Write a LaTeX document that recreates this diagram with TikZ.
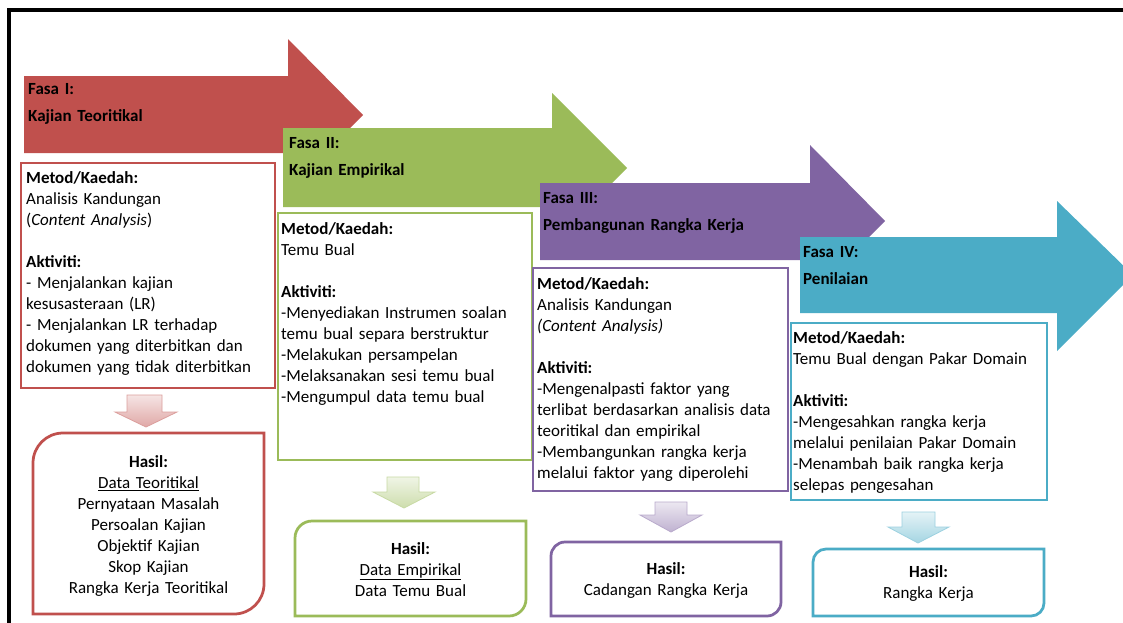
\documentclass[tikz,border=0pt]{standalone}
\usepackage{fontspec}
\setmainfont{Carlito}[WordSpace=0.85]
\usepackage{tikz}
\definecolor{merah}{HTML}{C0504D}
\definecolor{hijau}{HTML}{9BBB59}
\definecolor{ungu}{HTML}{8064A2}
\definecolor{biru}{HTML}{4BACC6}
\setlength{\parindent}{0pt}
\tikzset{
  teks/.style={font={\fontsize{17}{21}\selectfont}, inner sep=0pt, execute at begin node={\rule{0pt}{14pt}}},
  fasa/.style={teks, font={\fontsize{17}{21}\selectfont\bfseries}, anchor=north west, align=left, text width=250pt},
  kotak/.style={draw=#1, fill=white, line width=2.75pt, outer sep=0pt, anchor=north west},
  isi/.style={teks, anchor=north west, align=left, text width=252pt},
  turun/.style={draw=#1!55!white, line width=0.8pt, top color=#1!15!white, bottom color=#1!50!white},
  hasil/.style={draw=#1, fill=white, line width=2.75pt},
  hasilteks/.style={teks, anchor=north, align=center, text width=220pt},
}

\begin{document}
\begin{tikzpicture}[x=10pt, y=-10pt]
            \clip (0,0) rectangle (112.3,62.2);
            \fill[white] (0,0) rectangle (112.3,62.2);
            \draw[line width=3.5pt] (0.9,65.0) -- (0.9,1.0) -- (115.0,1.0);

            \fill[merah] (2.4,7.6) -- (28.8,7.6) -- (28.8,3.9) -- (36.3,11.5) -- (28.8,19.1) -- (28.8,15.3) -- (2.4,15.3) -- cycle;
            \fill[hijau] (28.3,12.8) -- (55.2,12.8) -- (55.2,9.3) -- (62.7,16.8) -- (55.2,24.3) -- (55.2,20.7) -- (28.3,20.7) -- cycle;
            \fill[ungu] (54.0,18.3) -- (81.0,18.3) -- (81.0,14.5) -- (88.5,22.1) -- (81.0,29.7) -- (81.0,26.0) -- (54.0,26.0) -- cycle;
            \fill[biru] (80.0,23.7) -- (105.7,23.7) -- (105.7,20.1) -- (113.3,27.5) -- (105.7,35.1) -- (105.7,31.3) -- (80.0,31.3) -- cycle;

            \node[fasa] (fasa1) at (2.8,8.05) {Fasa I:\\[6pt]Kajian Teoritikal};
            \node[fasa] (fasa2) at (28.9,13.4) {Fasa II:\\[6pt]Kajian Empirikal};
            \node[fasa] (fasa3) at (54.3,18.9) {Fasa III:\\[6pt]Pembangunan Rangka Kerja};
            \node[fasa] (fasa4) at (80.3,24.3) {Fasa IV:\\[6pt]Penilaian};

            \node[kotak=merah, minimum width=254pt, minimum height=225pt] (kotak1) at (2.1,16.3) {};
            \node[kotak=hijau, minimum width=254pt, minimum height=247pt] (kotak2) at (27.8,21.3) {};
            \node[kotak=ungu, minimum width=255pt, minimum height=223pt] (kotak3) at (53.3,26.8) {};
            \node[kotak=biru, minimum width=256pt, minimum height=177pt] (kotak4) at (79.1,32.3) {};

            \node[isi] (isi1) at (2.6,16.9) {\textbf{Metod/Kaedah:}\\Analisis Kandungan\\(\textit{Content Analysis})\\[21pt]\textbf{Aktiviti:}\\- Menjalankan kajian\\kesusasteraan (LR)\\- Menjalankan LR terhadap\\dokumen yang diterbitkan dan\\dokumen yang tidak diterbitkan};
            \node[isi] (isi2) at (28.1,22.0) {\textbf{Metod/Kaedah:}\\Temu Bual\\[21pt]\textbf{Aktiviti:}\\-Menyediakan Instrumen soalan\\temu bual separa berstruktur\\-Melakukan persampelan\\-Melaksanakan sesi temu bual\\-Mengumpul data temu bual};
            \node[isi] (isi3) at (53.7,27.5) {\textbf{Metod/Kaedah:}\\Analisis Kandungan\\\textit{(Content Analysis)}\\[21pt]\textbf{Aktiviti:}\\-Mengenalpasti faktor yang\\terlibat berdasarkan analisis data\\teoritikal dan empirikal\\-Membangunkan rangka kerja\\melalui faktor yang diperolehi};
            \node[isi] (isi4) at (79.3,32.9) {\textbf{Metod/Kaedah:}\\Temu Bual dengan Pakar Domain\\[21pt]\textbf{Aktiviti:}\\-Mengesahkan rangka kerja\\melalui penilaian Pakar Domain\\-Menambah baik rangka kerja\\selepas pengesahan};

            \draw[turun=merah] (12.7,39.5) -- (16.2,39.5) -- (16.2,41.2) -- (17.7,41.2) -- (14.6,42.7) -- (11.5,41.2) -- (12.7,41.2) -- cycle;
            \draw[turun=hijau] (38.7,47.7) -- (41.9,47.7) -- (41.9,49.2) -- (43.5,49.2) -- (40.4,50.8) -- (37.3,49.2) -- (38.7,49.2) -- cycle;
            \draw[turun=ungu] (65.5,50.2) -- (68.7,50.2) -- (68.7,51.5) -- (70.2,51.5) -- (67.1,53.2) -- (64.0,51.5) -- (65.5,51.5) -- cycle;
            \draw[turun=biru] (90.2,51.2) -- (93.5,51.2) -- (93.5,52.7) -- (94.9,52.7) -- (91.8,54.3) -- (88.8,52.7) -- (90.2,52.7) -- cycle;

            \draw[hasil=merah] (3.3,46.3) .. controls (3.3,44.64) and (4.64,43.3) .. (6.3,43.3) -- (26.4,43.3) -- (26.4,58.4) .. controls (26.4,60.06) and (25.06,61.4) .. (23.4,61.4) -- (3.3,61.4) -- cycle;
            \draw[hasil=hijau] (29.5,53.8) .. controls (29.5,52.86) and (30.26,52.1) .. (31.2,52.1) -- (52.6,52.1) -- (52.6,59.9) .. controls (52.6,60.84) and (51.84,61.6) .. (50.9,61.6) -- (29.5,61.6) -- cycle;
            \draw[hasil=ungu] (55.1,55.6) .. controls (55.1,54.83) and (55.73,54.2) .. (56.5,54.2) -- (78.1,54.2) -- (78.1,60.2) .. controls (78.1,60.97) and (77.47,61.6) .. (76.7,61.6) -- (55.1,61.6) -- cycle;
            \draw[hasil=biru] (81.3,56.2) .. controls (81.3,55.48) and (81.88,54.9) .. (82.6,54.9) -- (104.4,54.9) -- (104.4,60.3) .. controls (104.4,61.02) and (103.82,61.6) .. (103.1,61.6) -- (81.3,61.6) -- cycle;

            \node[hasilteks] (hasil1) at (14.85,45.3) {\textbf{Hasil:}\\\underline{Data Teoritikal}\\Pernyataan Masalah\\Persoalan Kajian\\Objektif Kajian\\Skop Kajian\\Rangka Kerja Teoritikal};
            \node[hasilteks] (hasil2) at (41.05,54.0) {\textbf{Hasil:}\\\underline{Data Empirikal}\\Data Temu Bual};
            \node[hasilteks] (hasil3) at (66.6,56.0) {\textbf{Hasil:}\\Cadangan Rangka Kerja};
            \node[hasilteks] (hasil4) at (92.85,56.3) {\textbf{Hasil:}\\Rangka Kerja};
        \end{tikzpicture}
\end{document}
